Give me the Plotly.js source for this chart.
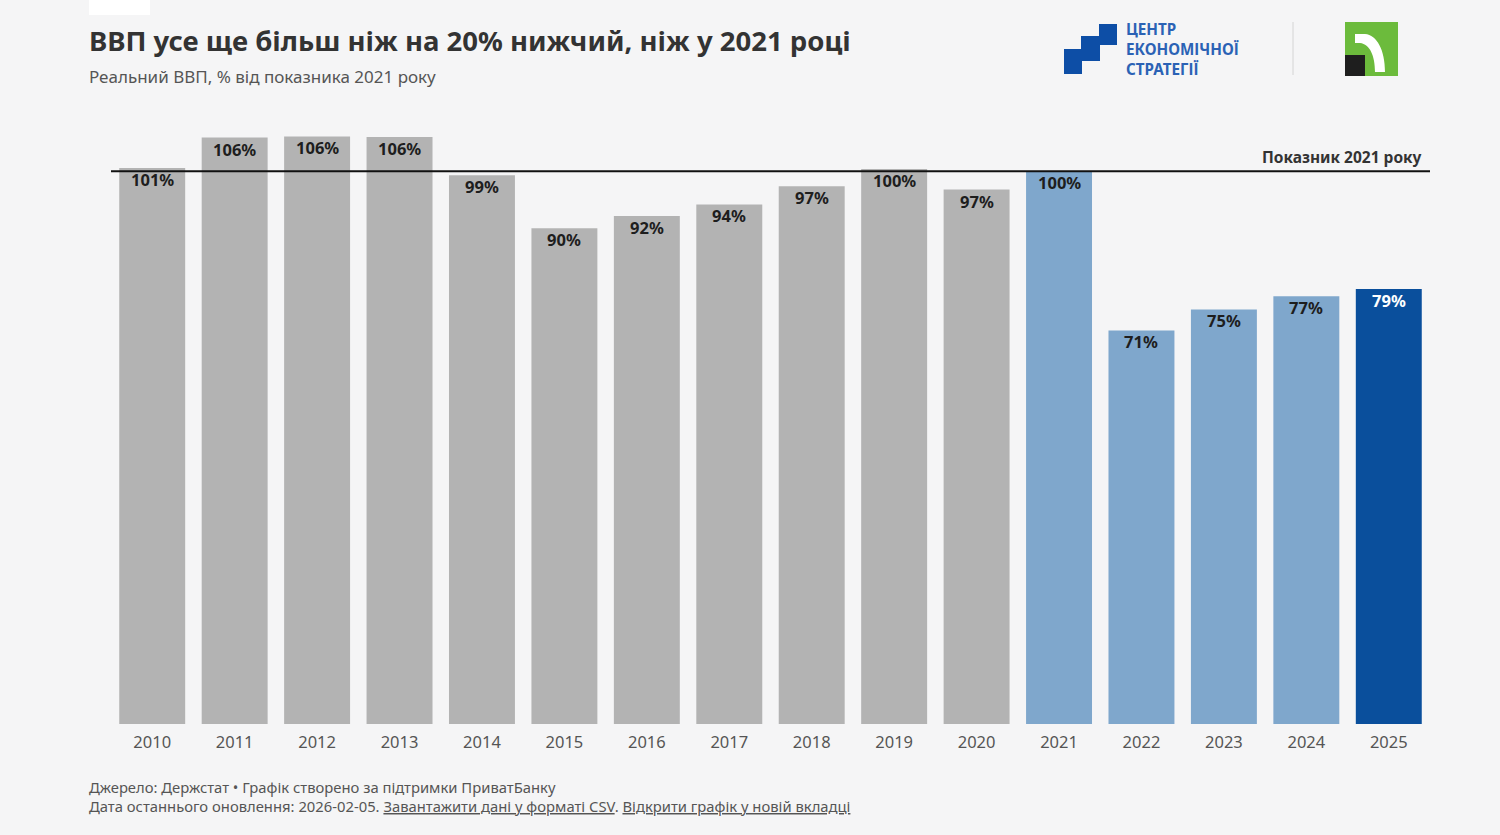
<!DOCTYPE html>
<html>
<head>
<meta charset="utf-8">
<script src="https://cdn.plot.ly/plotly-3.0.1.min.js"></script>
<style>
  html, body { margin: 0; padding: 0; background: #f5f5f6; }
  #chart { width: 1500px; height: 835px; }
</style>
</head>
<body>
<div id="chart"></div>
<script>
// ---- data ----
const years = ['2010','2011','2012','2013','2014','2015','2016','2017','2018','2019','2020','2021','2022','2023','2024','2025'];
const gdpPct = [100.6, 106.1, 106.3, 106.2, 99.3, 89.7, 91.9, 94.0, 97.3, 100.4, 96.7, 100.0, 71.2, 75.0, 77.4, 78.7];
const refValue = 100;
const refLabel = 'Показник 2021 року';
const titleText = 'ВВП усе ще більш ніж на 20% нижчий, ніж у 2021 році';
const subtitleText = 'Реальний ВВП, % від показника 2021 року';
const sourceText = 'Джерело: Держстат • Графік створено за підтримки ПриватБанку';
const updateText = 'Дата останнього оновлення: 2026-02-05. ';
const linkCsv = 'Завантажити дані у форматі CSV';
const linkOpen = 'Відкрити графік у новій вкладці';
const logoLines = ['ЦЕНТР', 'ЕКОНОМІЧНОЇ', 'СТРАТЕГІЇ'];

// ---- styling ----
const W = 1500, H = 835;
const M = {l: 111, r: 70, t: 116, b: 111};
const plotW = W - M.l - M.r, plotH = H - M.t - M.b;
const px = x => (x - M.l) / plotW;
const py = y => (H - M.b - y) / plotH;
const pt = (x, y) => px(x).toFixed(5) + ',' + py(y).toFixed(5);

const barColors = years.map(y => y === '2025' ? '#0a4f9c' : (+y >= 2021 ? '#7fa7cc' : '#b3b3b3'));
const textColors = years.map(y => y === '2025' ? '#ffffff' : '#1e1e1e');
const FONT = '"Noto Sans", "Open Sans", "DejaVu Sans", sans-serif';

const trace = {
  type: 'bar',
  x: years,
  y: gdpPct,
  marker: {color: barColors, line: {width: 0}},
  hoverinfo: 'x+y',
  cliponaxis: false
};

// logo shapes (pixel positions converted to paper)
const stairPath = 'M' + pt(1064,74) + ' L' + pt(1064,49) + ' L' + pt(1081,49) + ' L' + pt(1081,36) +
  ' L' + pt(1099,36) + ' L' + pt(1099,24) + ' L' + pt(1117,24) + ' L' + pt(1117,45) +
  ' L' + pt(1100,45) + ' L' + pt(1100,61) + ' L' + pt(1082,61) + ' L' + pt(1082,74) + ' Z';
const ringPath = 'M' + pt(1355,34) + ' L' + pt(1365,34) + ' C' + pt(1377,35) + ' ' + pt(1385,50) + ' ' + pt(1385,72) +
  ' L' + pt(1375,72) + ' C' + pt(1375,56) + ' ' + pt(1370,44) + ' ' + pt(1360,43) +
  ' L' + pt(1355,43) + ' Z';

const shapes = [
  {type: 'line', xref: 'paper', yref: 'y', x0: 0, x1: 1, y0: refValue, y1: refValue,
   line: {color: '#111111', width: 2}, layer: 'above'},
  {type: 'rect', xref: 'paper', yref: 'paper', x0: px(89), x1: px(150), y0: py(15), y1: py(-5),
   fillcolor: '#ffffff', line: {width: 0}},
  {type: 'path', xref: 'paper', yref: 'paper', path: stairPath, fillcolor: '#0d4ea6', line: {width: 0}},
  {type: 'line', xref: 'paper', yref: 'paper', x0: px(1293), x1: px(1293), y0: py(22), y1: py(75),
   line: {color: '#d4d4d4', width: 1}},
  {type: 'rect', xref: 'paper', yref: 'paper', x0: px(1345), x1: px(1398), y0: py(76), y1: py(22),
   fillcolor: '#6cbb3c', line: {width: 0}},
  {type: 'path', xref: 'paper', yref: 'paper', path: ringPath, fillcolor: '#ffffff', line: {width: 0}},
  {type: 'rect', xref: 'paper', yref: 'paper', x0: px(1345), x1: px(1365), y0: py(76), y1: py(55),
   fillcolor: '#1e1e1e', line: {width: 0}}
];

const annotations = [
  {xref: 'paper', yref: 'paper', x: px(87), y: py(40), xanchor: 'left', yanchor: 'middle',
   text: '<b>' + titleText + '</b>', showarrow: false,
   font: {family: FONT, size: 27.5, color: '#333333'}},
  {xref: 'paper', yref: 'paper', x: px(87), y: py(77), xanchor: 'left', yanchor: 'middle',
   text: subtitleText, showarrow: false, font: {family: FONT, size: 17, color: '#555555'}},
  {xref: 'paper', yref: 'y', x: px(1424), y: refValue, xanchor: 'right', yanchor: 'bottom', yshift: 1,
   text: '<b>' + refLabel + '</b>', showarrow: false, font: {family: FONT, size: 15.5, color: '#333333'}},
  {xref: 'paper', yref: 'paper', x: px(87), y: py(787), xanchor: 'left', yanchor: 'middle',
   text: sourceText, showarrow: false, font: {family: FONT, size: 14.8, color: '#555555'}},
  {xref: 'paper', yref: 'paper', x: px(87), y: py(806), xanchor: 'left', yanchor: 'middle',
   text: updateText + '<span style="text-decoration:underline">' + linkCsv + '</span>. ' +
         '<span style="text-decoration:underline">' + linkOpen + '</span>',
   showarrow: false, font: {family: FONT, size: 14.8, color: '#555555'}},
  {xref: 'paper', yref: 'paper', x: px(1124), y: py(49), xanchor: 'left', yanchor: 'middle', align: 'left',
   text: '<b>' + logoLines.join('<br>') + '</b>', showarrow: false,
   font: {family: FONT, size: 15.2, color: '#2b62b5'}}
];
// value labels inside bar tops (x given as category index)
years.forEach((yr, i) => {
  annotations.push({xref: 'x', yref: 'y', x: i, y: gdpPct[i], xanchor: 'center', yanchor: 'top', yshift: 2,
    text: '<b>' + Math.round(gdpPct[i]) + '%</b>', showarrow: false,
    font: {family: FONT, size: 16.5, color: textColors[i]}});
});

const layout = {
  width: W, height: H,
  margin: M,
  paper_bgcolor: '#f5f5f6',
  plot_bgcolor: '#f5f5f6',
  showlegend: false,
  bargap: 0.2,
  xaxis: {type: 'category', range: [-0.5, years.length - 0.5], showgrid: false, zeroline: false, showline: false, ticks: '',
          ticklabelstandoff: 6, tickfont: {family: FONT, size: 16.5, color: '#555555'}},
  yaxis: {range: [0, 110], showgrid: false, zeroline: false, showline: false, showticklabels: false, ticks: ''},
  shapes: shapes,
  annotations: annotations
};

Plotly.newPlot('chart', [trace], layout, {displayModeBar: false, staticPlot: true});
</script>
</body>
</html>
